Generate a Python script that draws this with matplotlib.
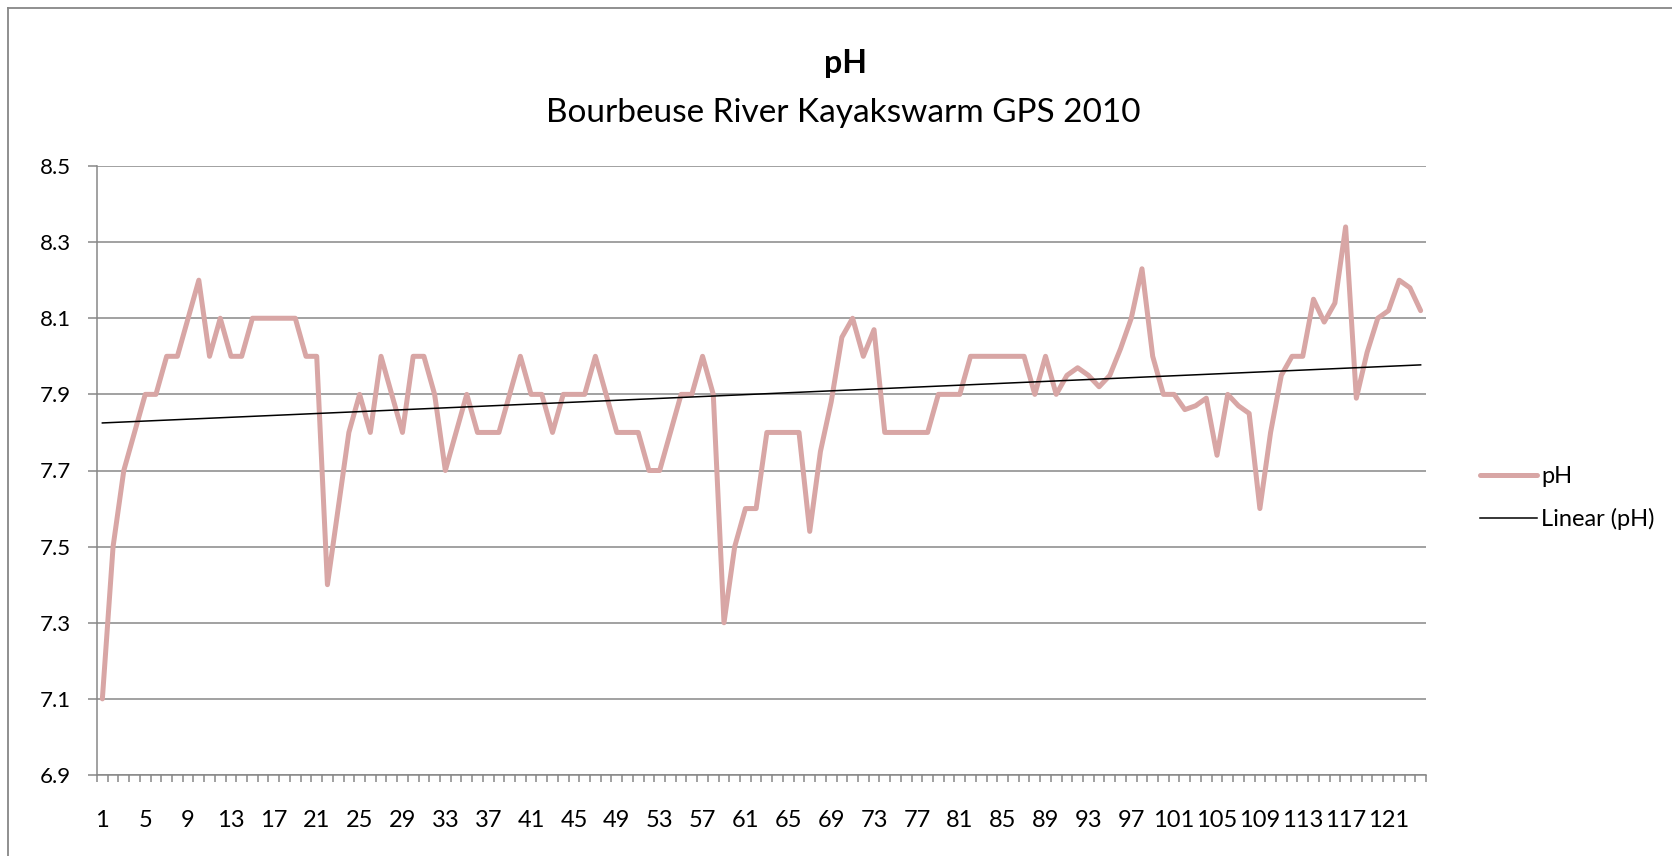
import matplotlib
matplotlib.use("Agg")
import matplotlib.pyplot as plt
from matplotlib.lines import Line2D
from matplotlib.ticker import FixedLocator, NullFormatter
import numpy as np

plt.rcParams["font.family"] = ["Lato", "DejaVu Sans"]

# pH readings, one per GPS point (1..124)
ph_values = [
    7.1, 7.5, 7.7, 7.8, 7.9, 7.9, 8.0, 8.0, 8.1, 8.2,
    8.0, 8.1, 8.0, 8.0, 8.1, 8.1, 8.1, 8.1, 8.1, 8.0,
    8.0, 7.4, 7.6, 7.8, 7.9, 7.8, 8.0, 7.9, 7.8, 8.0,
    8.0, 7.9, 7.7, 7.8, 7.9, 7.8, 7.8, 7.8, 7.9, 8.0,
    7.9, 7.9, 7.8, 7.9, 7.9, 7.9, 8.0, 7.9, 7.8, 7.8,
    7.8, 7.7, 7.7, 7.8, 7.9, 7.9, 8.0, 7.9, 7.3, 7.5,
    7.6, 7.6, 7.8, 7.8, 7.8, 7.8, 7.54, 7.75, 7.88, 8.05,
    8.1, 8.0, 8.07, 7.8, 7.8, 7.8, 7.8, 7.8, 7.9, 7.9,
    7.9, 8.0, 8.0, 8.0, 8.0, 8.0, 8.0, 7.9, 8.0, 7.9,
    7.95, 7.97, 7.95, 7.92, 7.95, 8.02, 8.1, 8.23, 8.0, 7.9,
    7.9, 7.86, 7.87, 7.89, 7.74, 7.9, 7.87, 7.85, 7.6, 7.8,
    7.95, 8.0, 8.0, 8.15, 8.09, 8.14, 8.34, 7.89, 8.01, 8.1,
    8.12, 8.2, 8.18, 8.12,
]
points = list(range(1, len(ph_values) + 1))
y_ticks = [6.9, 7.1, 7.3, 7.5, 7.7, 7.9, 8.1, 8.3, 8.5]
x_labels = list(range(1, len(ph_values) + 1, 4))

W, H = 1672, 856
fig = plt.figure(figsize=(W / 100, H / 100), dpi=100)
fig.patch.set_facecolor("white")

# plot area in pixels: left, top, right, bottom
left, top, right, bottom = 97, 166, 1426, 775
ax = fig.add_axes([left / W, 1 - bottom / H, (right - left) / W, (bottom - top) / H])

grid_color = "#878787"
line_color = "#D8A6A5"

x = np.array(points)
y = np.array(ph_values)
ax.plot(x, y, color=line_color, lw=3.6, solid_joinstyle="round",
        solid_capstyle="round", label="pH", zorder=3)

slope, intercept = np.polyfit(x, y, 1)
ax.plot(x, slope * x + intercept, color="black", lw=1.1, label="Linear (pH)", zorder=4)

ax.set_xlim(0.5, len(ph_values) + 0.5)
ax.set_ylim(6.9, 8.5)
ax.set_yticks(y_ticks)
ax.set_yticklabels([f"{v:.1f}" for v in y_ticks])
ax.yaxis.grid(True, color=grid_color, lw=1.1)
ax.set_axisbelow(True)

ax.xaxis.set_major_locator(FixedLocator(x_labels))
ax.set_xticklabels([str(v) for v in x_labels])
ax.xaxis.set_minor_locator(FixedLocator(np.arange(0.5, len(ph_values) + 1, 1)))
ax.xaxis.set_minor_formatter(NullFormatter())
ax.tick_params(axis="x", which="major", length=0, pad=25, labelsize=17)
ax.tick_params(axis="x", which="minor", length=5, width=1.1, color=grid_color, direction="out")
ax.tick_params(axis="y", length=6.5, width=1.1, color=grid_color, pad=12, labelsize=16)

for side in ["top", "right"]:
    ax.spines[side].set_visible(False)
for side in ["left", "bottom"]:
    ax.spines[side].set_color(grid_color)
    ax.spines[side].set_linewidth(1.1)

fig.text(846 / W, 1 - 64 / H, "pH", ha="center", va="center",
         fontsize=23, fontweight="bold")
fig.text(843 / W, 1 - 113 / H, "Bourbeuse River Kayakswarm GPS 2010",
         ha="center", va="center", fontsize=24)

fig.legend(loc="center left", bbox_to_anchor=(1480 / W, 1 - 498 / H),
           frameon=False, fontsize=17, handlelength=2.4, handletextpad=0.2,
           labelspacing=0.9, borderpad=0, borderaxespad=0)

# chart area border (clipped on the right and bottom)
fig.add_artist(Line2D([8 / W, 8 / W], [0, 1 - 8 / H], color=grid_color, lw=1.3))
fig.add_artist(Line2D([8 / W, 1], [1 - 8 / H, 1 - 8 / H], color=grid_color, lw=1.3))

fig.savefig("out.png", dpi=100)
